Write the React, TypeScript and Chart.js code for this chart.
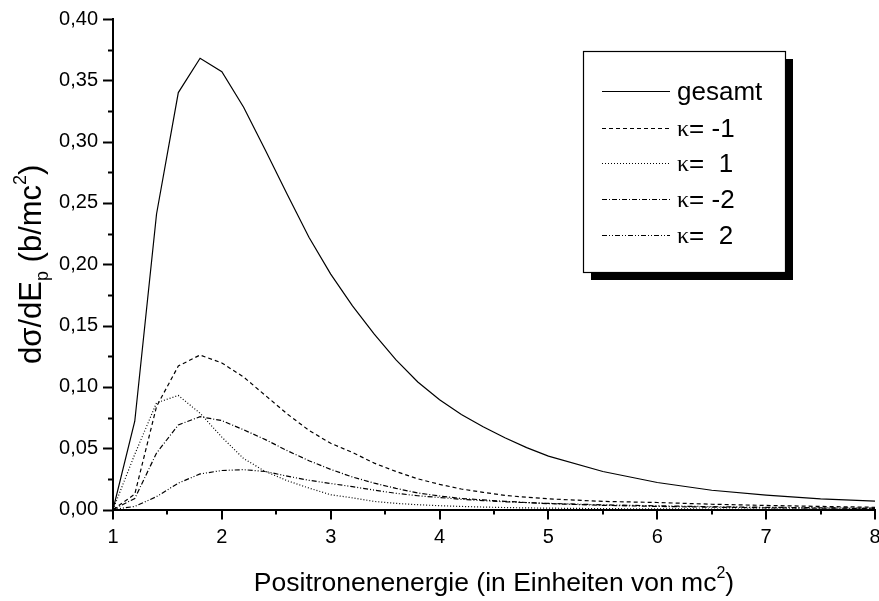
import React, { useEffect, useRef } from "react";
import { Chart, registerables } from "chart.js";

Chart.register(...registerables);

// Positron energy in units of mc^2
const energies = [
  1.0, 1.2, 1.4, 1.6, 1.8, 2.0, 2.2, 2.4, 2.6, 2.8, 3.0, 3.2, 3.4, 3.6, 3.8, 4.0,
  4.2, 4.4, 4.6, 4.8, 5.0, 5.5, 6.0, 6.5, 7.0, 7.5, 8.0,
];

// dσ/dE_p in b/mc^2
const gesamt = [
  0, 0.072, 0.241, 0.34, 0.368, 0.357, 0.328, 0.293, 0.257, 0.222, 0.192, 0.166,
  0.143, 0.122, 0.104, 0.0895, 0.0775, 0.0675, 0.0585, 0.0505, 0.0435, 0.031,
  0.022, 0.0157, 0.0117, 0.0086, 0.0069,
];
const kappaMinus1 = [
  0, 0.0125, 0.084, 0.117, 0.126, 0.1195, 0.108, 0.093, 0.078, 0.0645, 0.054,
  0.0465, 0.0378, 0.031, 0.025, 0.0205, 0.0167, 0.014, 0.0115, 0.01, 0.0087,
  0.0066, 0.0057, 0.0043, 0.0033, 0.0025, 0.0018,
];
const kappaPlus1 = [
  0, 0.045, 0.087, 0.093, 0.0785, 0.059, 0.0415, 0.031, 0.0235, 0.0175, 0.012,
  0.0095, 0.0066, 0.005, 0.0039, 0.0031, 0.0025, 0.002, 0.0016, 0.0013, 0.0011,
  0.0007, 0.0005, 0.0004, 0.0003, 0.0002, 0.0002,
];
const kappaMinus2 = [
  0, 0.009, 0.046, 0.069, 0.0757, 0.0725, 0.065, 0.057, 0.048, 0.0398, 0.0327,
  0.0265, 0.0215, 0.0172, 0.0135, 0.011, 0.009, 0.0078, 0.0067, 0.0057, 0.0048,
  0.0034, 0.0025, 0.0019, 0.0014, 0.0011, 0.0009,
];
const kappaPlus2 = [
  0, 0.0025, 0.0105, 0.0215, 0.029, 0.0318, 0.0325, 0.031, 0.0272, 0.0238,
  0.0212, 0.0186, 0.0158, 0.0132, 0.0112, 0.0098, 0.0083, 0.0072, 0.0063,
  0.0056, 0.005, 0.0038, 0.003, 0.0023, 0.0018, 0.0014, 0.0011,
];

const kappaValues = ["-1", " 1", "-2", " 2"];

const SANS = '"Liberation Sans", Arial, Helvetica, sans-serif';
const SERIF = '"Liberation Serif", "Times New Roman", serif';

type Run = { text: string; size: number; shift?: number; family?: string };

function runsWidth(ctx: CanvasRenderingContext2D, runs: Run[]) {
  let w = 0;
  for (const r of runs) {
    ctx.font = `${r.size}px ${r.family ?? SANS}`;
    w += ctx.measureText(r.text).width;
  }
  return w;
}

function drawRuns(
  ctx: CanvasRenderingContext2D,
  runs: Run[],
  x: number,
  y: number,
  align: "left" | "center"
) {
  let cx = align === "center" ? x - runsWidth(ctx, runs) / 2 : x;
  ctx.textAlign = "left";
  for (const r of runs) {
    ctx.font = `${r.size}px ${r.family ?? SANS}`;
    ctx.fillText(r.text, cx, y + (r.shift ?? 0));
    cx += ctx.measureText(r.text).width;
  }
}

type Series = { label: string; values: number[]; dash: number[] };

const series: Series[] = [
  { label: "gesamt", values: gesamt, dash: [] },
  { label: "κ=-1", values: kappaMinus1, dash: [4, 3] },
  { label: "κ=1", values: kappaPlus1, dash: [1, 2] },
  { label: "κ=-2", values: kappaMinus2, dash: [5, 2, 1, 2] },
  { label: "κ=2", values: kappaPlus2, dash: [5, 2, 1, 2, 1, 2] },
];

const decorations = {
  id: "decorations",
  afterDraw(chart: any) {
    const { ctx, chartArea, scales } = chart;
    const xs = scales.x;
    const ys = scales.y;
    ctx.save();
    ctx.strokeStyle = "#000";
    ctx.fillStyle = "#000";
    ctx.lineWidth = 2;

    // major and minor tick marks, pointing outwards
    for (let i = 0; i <= 16; i++) {
      const py = Math.round(ys.getPixelForValue(i * 0.025)) + 0.5;
      const len = i % 2 === 0 ? 10 : 5;
      ctx.beginPath();
      ctx.moveTo(chartArea.left - len, py);
      ctx.lineTo(chartArea.left, py);
      ctx.stroke();
    }
    for (let i = 0; i <= 14; i++) {
      const px = Math.round(xs.getPixelForValue(1 + i * 0.5));
      const len = i % 2 === 0 ? 10 : 5;
      ctx.beginPath();
      ctx.moveTo(px, chartArea.bottom);
      ctx.lineTo(px, chartArea.bottom + len);
      ctx.stroke();
    }

    // axis titles
    ctx.textBaseline = "alphabetic";
    const cx = (chartArea.left + chartArea.right) / 2;
    drawRuns(
      ctx,
      [
        { text: "Positronenenergie (in Einheiten von mc", size: 26.5 },
        { text: "2", size: 16, shift: -13 },
        { text: ")", size: 26.5 },
      ],
      cx,
      591,
      "center"
    );
    ctx.save();
    ctx.translate(41, (chartArea.top + chartArea.bottom) / 2);
    ctx.rotate(-Math.PI / 2);
    drawRuns(
      ctx,
      [
        { text: "dσ/dE", size: 31 },
        { text: "p", size: 18, shift: 7 },
        { text: " (b/mc", size: 31 },
        { text: "2", size: 18, shift: -15 },
        { text: ")", size: 31 },
      ],
      0,
      0,
      "center"
    );
    ctx.restore();

    // legend box with drop shadow
    const bx = 583;
    const by = 51;
    const bw = 202;
    const bh = 221;
    ctx.fillStyle = "#000";
    ctx.fillRect(bx + 8, by + 8, bw, bh);
    ctx.fillStyle = "#fff";
    ctx.fillRect(bx, by, bw, bh);
    ctx.lineWidth = 1.2;
    ctx.strokeRect(bx + 0.5, by + 0.5, bw, bh);

    ctx.fillStyle = "#000";
    ctx.textBaseline = "middle";
    const rows = [91, 128, 163, 199, 235];
    series.forEach((s, i) => {
      const ry = rows[i] + 0.5;
      ctx.setLineDash(s.dash);
      ctx.lineWidth = 1.2;
      ctx.beginPath();
      ctx.moveTo(602, ry);
      ctx.lineTo(670, ry);
      ctx.stroke();
      ctx.setLineDash([]);
      if (i === 0) {
        drawRuns(ctx, [{ text: s.label, size: 26 }], 677, ry + 1, "left");
      } else {
        drawRuns(
          ctx,
          [
            { text: "κ", size: 24, family: SERIF },
            { text: "= " + kappaValues[i - 1], size: 26 },
          ],
          677,
          ry + 1,
          "left"
        );
      }
    });
    ctx.restore();
  },
};

export default function App() {
  const canvasRef = useRef<HTMLCanvasElement | null>(null);

  useEffect(() => {
    const canvas = canvasRef.current;
    if (!canvas) return;
    const chart = new Chart(canvas, {
      type: "line",
      data: {
        datasets: series.map((s) => ({
          label: s.label,
          data: energies.map((x, i) => ({ x, y: s.values[i] })),
          borderColor: "#000",
          borderWidth: 1.2,
          borderDash: s.dash,
          pointRadius: 0,
          fill: false,
          tension: 0,
        })),
      },
      options: {
        responsive: false,
        animation: false,
        layout: { padding: { top: 14, right: 4, left: 0, bottom: 0 } },
        plugins: {
          legend: { display: false },
          tooltip: { enabled: false },
        },
        scales: {
          x: {
            type: "linear",
            min: 1,
            max: 8,
            grid: { display: false },
            border: { display: true, color: "#000", width: 2 },
            ticks: {
              stepSize: 1,
              color: "#000",
              font: { family: SANS, size: 20 },
              padding: 8,
              maxRotation: 0,
              callback: (v: any) => String(v),
            },
            afterFit: (scale: any) => {
              scale.height = 91.5;
              scale.paddingRight = 4;
              scale.paddingLeft = 0;
            },
          },
          y: {
            type: "linear",
            min: 0,
            max: 0.4,
            grid: { display: false },
            border: { display: true, color: "#000", width: 2 },
            ticks: {
              stepSize: 0.05,
              color: "#000",
              font: { family: SANS, size: 20 },
              padding: 7,
              callback: (v: any) => Number(v).toFixed(2).replace(".", ","),
            },
            afterFit: (scale: any) => {
              scale.width = 113;
            },
          },
        },
      },
      plugins: [decorations],
    });
    return () => chart.destroy();
  }, []);

  return (
    <div style={{ position: "absolute", left: 0, top: 0, width: 879, height: 601, background: "#fff" }}>
      <canvas ref={canvasRef} width={879} height={601} style={{ display: "block" }} />
    </div>
  );
}
